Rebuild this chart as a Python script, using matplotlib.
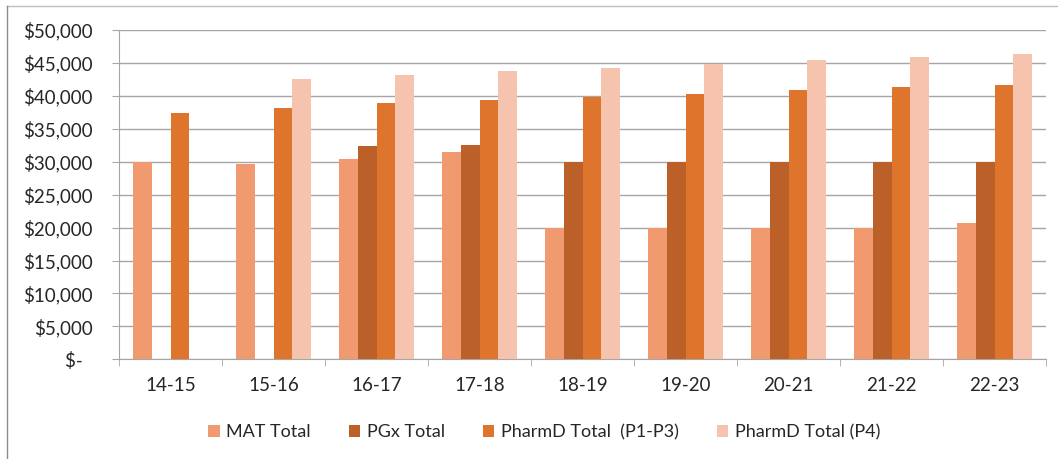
import numpy as np
import matplotlib
matplotlib.use("Agg")
import matplotlib.pyplot as plt
from matplotlib.lines import Line2D
from matplotlib.ticker import FuncFormatter

plt.rcParams['font.family'] = ['Lato', 'DejaVu Sans']

years = ["14-15", "15-16", "16-17", "17-18", "18-19", "19-20", "20-21", "21-22", "22-23"]
mat_total = [30000, 29650, 30450, 31400, 20000, 20000, 20000, 20000, 20700]
pgx_total = [np.nan, np.nan, 32350, 32500, 29950, 29950, 29950, 29950, 29950]
pharmd_p1_p3 = [37450, 38150, 38850, 39300, 39800, 40300, 40900, 41300, 41650]
pharmd_p4 = [np.nan, 42500, 43200, 43700, 44200, 44800, 45400, 45850, 46300]

series = [
    ("MAT Total", mat_total, "#F19A70"),
    ("PGx Total", pgx_total, "#BB6028"),
    ("PharmD Total  (P1-P3)", pharmd_p1_p3, "#DF742C"),
    ("PharmD Total (P4)", pharmd_p4, "#F6C3AF"),
]

fig = plt.figure(figsize=(10.58, 4.59), dpi=100)
ax = fig.add_axes([119 / 1058, 1 - 359.3 / 459, 927 / 1058, 329.3 / 459])

x = np.arange(len(years))
w = 0.181
for i, (name, vals, col) in enumerate(series):
    ax.bar(x + (i - 1.5) * w, vals, width=w, color=col, label=name, zorder=3)

ax.set_xlim(-0.5, len(years) - 0.5)
ax.set_ylim(0, 50000)
ax.set_yticks(np.arange(0, 50001, 5000))
ax.yaxis.set_major_formatter(FuncFormatter(lambda v, p: "$-  " if v == 0 else f"${v:,.0f}"))
ax.grid(axis="y", color="#A6A6A6", lw=1, zorder=0)

ax.set_xticks(x)
ax.set_xticklabels(years)
ax.set_xticks(np.arange(-0.5, len(years)), minor=True)
ax.tick_params(axis="x", which="major", length=0, pad=13, labelsize=13.5, labelcolor="#262626")
ax.tick_params(axis="x", which="minor", length=5, color="#A6A6A6", direction="out")
ax.tick_params(axis="y", length=5, color="#A6A6A6", pad=14, labelsize=13.5, labelcolor="#262626")

for s in ["top", "right"]:
    ax.spines[s].set_visible(False)
for s in ["left", "bottom"]:
    ax.spines[s].set_color("#A6A6A6")

leg = fig.legend(loc="center", bbox_to_anchor=(544 / 1058, 1 - 432 / 459), ncol=4, frameon=False,
                 fontsize=13, handlelength=0.65, handleheight=0.65, handletextpad=0.35,
                 columnspacing=2.1)
for t in leg.get_texts():
    t.set_color("#262626")

# chart frame: only top and left edges are visible in the crop
fig.lines.append(Line2D([7 / 1058, 1], [1 - 6 / 459, 1 - 6 / 459], transform=fig.transFigure,
                        color="#BFBFBF", lw=1))
fig.lines.append(Line2D([7 / 1058, 7 / 1058], [0, 1 - 6 / 459], transform=fig.transFigure,
                        color="#8C8C8C", lw=1))

fig.savefig("out.png", dpi=100)
